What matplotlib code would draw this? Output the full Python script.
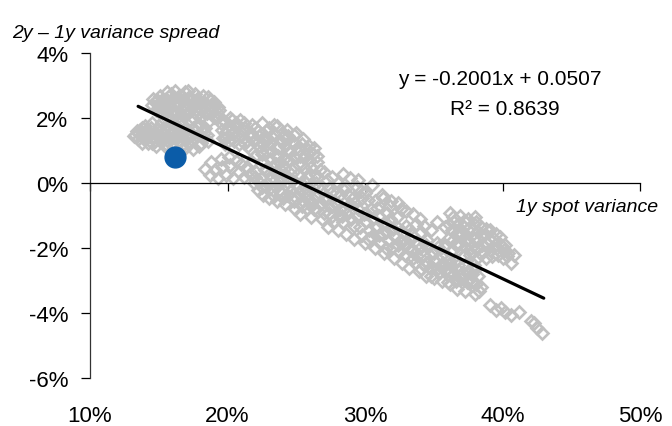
import matplotlib
matplotlib.use("Agg")
import matplotlib.pyplot as plt

plt.rcParams['font.family'] = ['Liberation Sans', 'DejaVu Sans']

# ---- data (percent units) ----
spot_variance = [
    # left lower cluster
    13.3, 13.5, 13.6, 13.9, 14.0, 14.2, 14.3, 14.5, 14.6, 14.8, 14.9, 15.1, 15.2, 15.3, 15.5, 15.6, 15.8, 15.9,
    16.0, 16.2, 16.4, 16.5, 16.7, 16.8, 17.0, 17.1, 17.3, 17.5, 17.6, 17.8, 18.0, 18.1, 18.3, 18.6, 13.8, 14.1,
    15.0, 15.7, 16.1, 16.9, 17.4, 18.4,
    13.4, 13.7, 14.0, 14.4, 14.7, 14.7, 15.0, 15.4, 15.6, 15.9, 16.3, 16.6, 16.6, 17.2, 17.2, 17.7, 17.9, 18.2,
    18.5, 16.0,
    13.2, 13.5, 13.8, 14.2, 14.5, 14.9, 15.3, 15.7, 16.2, 16.8, 17.5, 18.0, 17.0,
    # upper left cluster
    14.5, 14.8, 14.9, 15.1, 15.2, 15.4, 15.6, 15.7, 15.9, 16.0, 16.2, 16.3, 16.5, 16.7, 16.8, 17.0, 17.1, 17.3,
    17.5, 17.6, 17.7, 17.9, 18.1, 18.2, 18.4, 18.6, 18.7, 18.9, 19.1, 19.3, 19.4, 16.6, 15.3, 17.4, 18.0,
    14.7, 15.0, 15.2, 15.5, 15.8, 16.1, 16.4, 16.6, 16.9, 17.2, 17.5, 17.8, 18.3, 18.5, 18.8, 19.0, 19.2, 17.0,
    15.9, 16.9,
    14.6, 15.0, 15.5, 15.7, 16.2, 16.4, 16.8, 17.1, 17.4, 17.9, 18.3, 18.6, 19.0, 19.3, 16.0, 18.0,
    # middle upper band
    19.6, 19.7, 19.9, 20.1, 20.2, 20.4, 20.5, 20.7, 20.9, 21.0, 21.2, 19.8,
    21.3, 21.5, 21.6, 21.8, 21.9, 22.0, 22.2, 22.3, 22.5, 22.6, 22.7, 22.9, 23.0,
    23.1, 23.2, 23.4, 23.5, 23.6, 23.7, 23.9, 24.0, 24.1, 24.3, 24.4, 24.6, 24.7, 24.8, 25.0,
    25.1, 25.2, 25.4, 25.5, 25.7, 25.8, 25.9, 26.1, 26.2, 26.4, 26.5, 26.7,
    19.5, 19.8, 20.0, 20.3, 20.6, 20.8, 21.1, 21.4, 21.7, 22.1, 22.4, 22.8, 23.1, 23.3, 23.8, 23.9, 24.2, 24.5,
    24.9, 25.3, 25.6, 26.0, 26.3, 22.8, 24.4, 25.9,
    19.7, 20.0, 20.3, 20.6, 20.9, 21.2, 21.5, 21.8, 22.0, 22.3, 22.6, 22.9, 23.2, 23.4, 23.7, 24.0, 24.2, 24.5,
    24.8, 25.1, 25.4, 25.7, 26.0, 26.5, 23.5, 22.5,
    # lower left branch
    18.4, 18.7, 18.8, 19.1, 19.3, 19.5, 19.6, 19.9, 20.1, 20.2, 20.4, 20.6, 20.8, 21.0, 21.2, 21.4, 21.6, 21.8,
    # lower band
    21.9, 22.1, 22.2, 22.4, 22.6, 22.7, 22.9, 23.0, 23.2, 23.3, 23.5, 23.6, 23.8, 23.9, 24.1, 24.2, 24.4, 24.5,
    24.7, 24.9, 25.0, 25.2, 25.3, 25.5, 25.6, 25.8, 26.0, 26.1, 26.3, 26.4, 26.6, 26.8, 26.9, 27.1, 27.2, 27.4,
    27.5, 27.7, 27.8, 28.0, 28.1, 28.2,
    22.3, 22.8, 23.1, 23.4, 23.7, 24.0, 24.3, 24.6, 24.8, 25.1, 25.4, 25.7, 26.0, 26.2, 26.5, 26.7, 27.0, 27.3,
    27.6, 27.9, 28.2, 28.4,
    22.0, 22.5, 23.0, 23.5, 23.9, 24.3, 24.6, 25.0, 25.3, 25.5, 25.9, 26.3, 26.6, 27.0, 27.4, 27.6, 28.0, 28.3,
    # middle band
    27.0, 27.3, 27.6, 28.0, 28.3, 28.4, 28.5, 28.6, 28.8, 28.9, 29.0, 29.2, 29.3, 29.5, 29.6, 29.7, 29.9, 30.0,
    30.2, 30.3, 30.5, 30.6, 30.7, 30.9, 31.0, 31.2, 31.3, 31.4, 31.6, 31.7, 31.9, 32.0, 32.1, 32.3, 32.4, 32.6,
    32.7, 32.8,
    28.7, 29.1, 29.4, 29.8, 30.1, 30.4, 30.8, 31.1, 31.5, 31.8, 32.2, 32.5, 32.9, 29.4, 30.0,
    28.6, 28.9, 29.2, 29.5, 29.8, 30.1, 30.4, 30.7, 31.0, 31.3, 31.6, 32.0, 32.3, 32.6, 32.9, 30.2, 31.5,
    # stray upper diamonds
    31.3, 31.8, 32.4, 33.0, 33.5, 34.0, 34.3, 35.2,
    # lower right band
    33.0, 33.1, 33.2, 33.4, 33.5, 33.7, 33.8, 33.9, 34.1, 34.2, 34.4, 34.5, 34.6, 34.8, 34.9, 35.0, 35.2, 35.3,
    35.5, 35.6, 35.8, 35.9, 36.1, 36.2, 36.4, 36.5, 36.7, 36.8, 37.0, 37.2, 37.3, 37.5, 37.7, 37.9, 38.0, 38.2,
    38.4,
    33.3, 33.6, 34.0, 34.3, 34.7, 35.1, 35.4, 35.7, 36.0, 36.3, 36.6, 37.1, 37.4, 37.8, 38.1,
    33.2, 33.5, 33.8, 34.1, 34.4, 34.7, 35.0, 35.3, 35.6, 35.9, 36.2, 36.6, 36.9, 37.3, 37.6, 38.0, 38.3, 34.8,
    36.0,
    # upper right group
    35.8, 36.0, 36.2, 36.3, 36.5, 36.6, 36.8, 36.9, 37.1, 37.2, 37.4, 37.5, 37.7, 37.8, 38.0, 38.1, 38.3, 38.4,
    38.6, 38.7, 38.9, 39.1, 39.2, 39.4, 39.6, 39.8, 40.0, 40.2, 40.4, 40.6, 40.8,
    36.1, 36.4, 36.7, 37.0, 37.3, 37.6, 37.9, 38.2, 38.5, 38.8, 39.0, 39.3, 39.7, 40.1, 36.4, 37.6,
    36.3, 36.6, 36.9, 37.2, 37.5, 37.9, 38.2, 38.5, 38.8, 39.1, 39.5, 39.9, 40.3, 38.0,
    # tail
    39.1, 39.5, 39.9, 40.2, 40.6, 41.2, 42.1, 42.5, 42.9, 42.3,
]

variance_spread = [
    # left lower cluster
    1.50, 1.35, 1.65, 1.45, 1.75, 1.25, 1.55, 1.85, 1.40, 1.15, 1.65, 1.30, 1.90, 1.55, 1.20, 1.75, 1.40, 1.95,
    1.15, 1.60, 1.30, 1.85, 1.50, 1.05, 1.70, 1.40, 1.95, 1.05, 1.60, 1.45, 1.80, 1.25, 1.55, 1.30, 1.25, 1.60,
    1.45, 1.60, 1.75, 1.65, 1.50, 1.70,
    1.60, 1.45, 1.35, 1.70, 1.30, 1.55, 1.75, 1.35, 1.10, 1.55, 1.45, 1.15, 1.65, 1.20, 1.55, 1.75, 1.15, 1.40,
    1.50, 1.85,
    1.45, 1.55, 1.70, 1.45, 1.25, 1.50, 1.70, 1.30, 1.45, 1.35, 1.70, 1.50, 1.15,
    # upper left cluster
    2.40, 2.25, 2.55, 2.70, 2.15, 2.45, 2.80, 2.10, 2.35, 2.60, 2.85, 2.15, 2.45, 2.70, 2.05, 2.30, 2.85, 2.55,
    2.00, 2.75, 2.25, 2.50, 2.05, 2.70, 2.35, 1.90, 2.55, 2.20, 2.40, 2.05, 2.25, 2.30, 2.30, 2.45, 2.30,
    2.50, 2.35, 2.55, 2.60, 2.50, 2.25, 2.65, 2.55, 2.40, 2.65, 2.35, 2.60, 2.50, 2.15, 2.40, 2.05, 2.20, 2.10,
    2.75, 2.80,
    2.60, 2.20, 2.25, 2.45, 2.40, 2.05, 2.55, 2.20, 2.60, 2.15, 2.20, 2.65, 2.50, 2.35, 2.15, 2.50,
    # middle upper band
    1.65, 1.95, 1.40, 1.80, 2.00, 1.55, 1.30, 1.75, 1.95, 1.45, 1.25, 1.20,
    1.70, 1.50, 1.05, 1.80, 1.30, 0.85, 1.60, 1.15, 1.85, 0.65, 1.40, 0.95, 1.70,
    1.25, 0.50, 1.55, 0.85, 1.75, 1.10, 0.40, 1.45, 0.75, 1.65, 1.05, 0.45, 1.30, 0.80, 1.55,
    0.30, 1.05, 0.60, 1.35, 0.85, 0.20, 1.15, 0.50, 0.90, 0.25, 0.65, 0.40,
    1.85, 1.55, 1.30, 1.70, 1.50, 1.20, 1.65, 1.30, 1.55, 1.35, 1.00, 1.60, 0.75, 1.40, 0.65, 1.30, 1.15, 0.70,
    1.20, 0.85, 0.45, 0.70, 1.10, 0.45, 1.45, 0.30,
    1.40, 1.60, 1.95, 1.85, 1.60, 1.85, 1.15, 1.45, 1.70, 1.45, 1.20, 1.35, 1.00, 1.80, 0.85, 0.55, 1.50, 0.95,
    1.50, 0.60, 1.20, 1.10, 0.95, 0.85, 0.60, 0.90,
    # lower left branch
    0.45, 0.25, 0.65, 0.40, 0.15, 0.75, 0.50, 0.25, 0.80, 0.55, 0.15, 0.70, 0.35, 0.60, 0.20, 0.50, 0.30, 0.65,
    # lower band
    0.00, 0.35, -0.20, 0.15, -0.35, 0.40, 0.00, -0.45, 0.20, -0.20, 0.35, -0.55, 0.05, -0.30, 0.25, -0.65, -0.10, 0.15,
    -0.45, -0.80, 0.00, -0.30, -0.95, -0.55, 0.05, -0.75, -0.25, -1.05, -0.50, 0.00, -0.85, -0.20, -1.10, -0.55, 0.10, -0.90,
    -0.30, -1.20, -0.60, 0.00, -1.00, -0.35,
    0.05, -0.10, 0.10, -0.40, -0.05, -0.45, 0.05, -0.25, -0.55, -0.10, -0.70, -0.35, -0.65, -0.10, -0.35, -0.65, -0.90, -0.45,
    -0.70, -0.30, -0.80, -1.20,
    0.20, -0.10, 0.30, -0.10, 0.15, -0.35, 0.30, -0.45, 0.20, -0.20, -0.50, -0.80, -0.10, -0.45, -0.15, -1.00, -0.65, -1.00,
    # middle band
    0.35, -1.35, 0.20, -1.45, -0.15, 0.30, -0.80, -1.55, -0.40, 0.15, -1.10, -1.70, -0.60, 0.10, -1.35, -0.25, -0.95, -1.85,
    -0.50, -1.45, -0.05, -1.10, -2.00, -0.75, -1.60, -0.35, -1.25, -2.15, -0.90, -1.75, -0.55, -1.40, -2.30, -1.05, -1.90, -0.80,
    -2.45, -1.50,
    -0.95, -0.45, -1.00, -1.60, -1.20, -0.80, -1.35, -1.85, -1.50, -1.10, -1.65, -2.10, -1.85, -0.10, -0.30,
    -0.15, -0.65, -1.30, -0.80, -0.45, -0.90, -1.65, -0.55, -1.00, -1.55, -1.25, -1.95, -1.35, -1.75, -2.20, -1.70, -2.00,
    # stray upper diamonds
    -0.45, -0.70, -0.60, -0.85, -0.95, -1.10, -1.30, -1.20,
    # lower right band
    -1.30, -2.00, -2.60, -1.60, -2.30, -1.25, -1.90, -2.70, -1.50, -2.20, -2.85, -1.75, -2.45, -1.45, -2.10, -2.90, -1.85, -2.60,
    -2.25, -3.00, -1.90, -2.65, -2.35, -3.10, -2.05, -2.80, -3.25, -2.50, -2.95, -2.25, -3.30, -2.70, -3.05, -2.50, -3.40, -2.85,
    -3.20,
    -1.75, -2.45, -2.00, -2.50, -2.20, -2.40, -2.75, -2.45, -2.80, -2.55, -3.00, -2.75, -3.05, -2.80, -3.10,
    -1.45, -2.05, -2.25, -2.65, -1.90, -2.60, -2.15, -1.95, -2.60, -2.20, -2.70, -2.35, -2.85, -2.50, -2.90, -2.65, -3.30, -2.85,
    -3.05,
    # upper right group
    -1.35, -1.70, -0.90, -2.05, -1.20, -1.55, -1.90, -1.00, -2.25, -1.35, -1.70, -1.10, -2.00, -1.45, -2.35, -1.20, -1.75, -1.35,
    -2.10, -1.55, -1.85, -1.45, -2.25, -1.70, -2.00, -1.65, -2.30, -1.90, -2.15, -2.45, -2.20,
    -1.25, -1.75, -1.30, -1.60, -1.95, -1.35, -1.70, -2.00, -1.60, -2.30, -1.70, -1.95, -2.20, -2.05, -1.05, -2.20,
    -1.45, -1.90, -1.50, -1.15, -1.85, -1.25, -1.50, -1.90, -1.40, -2.05, -1.55, -1.90, -2.25, -1.05,
    # tail
    -3.75, -3.90, -3.85, -3.95, -4.05, -3.95, -4.25, -4.45, -4.60, -4.30,
]

current_spot = [16.2]
current_spread = [0.80]

fit_slope = -0.2001
fit_intercept = 0.0507
fit_r2 = 0.8639
fit_x = [13.5, 43.0]

x_ticks = [10, 20, 30, 40, 50]
x_labels = ['10%', '20%', '30%', '40%', '50%']
y_ticks = [-6, -4, -2, 0, 2, 4]
y_labels = ['-6%', '-4%', '-2%', '0%', '2%', '4%']

# ---- figure ----
fig = plt.figure(figsize=(6.72, 4.27), dpi=100)
ax = fig.add_axes([90 / 672, 47.7 / 427, 550 / 672, 325 / 427])
ax.set_xlim(10, 50)
ax.set_ylim(-6, 4)

ax.plot(spot_variance, variance_spread, linestyle='none', marker='D', markersize=6.0,
        markerfacecolor='none', markeredgecolor='#C0C0C0', markeredgewidth=1.9, zorder=2)

fit_y = [(fit_slope * x / 100 + fit_intercept) * 100 for x in fit_x]
ax.plot(fit_x, fit_y, color='black', linewidth=2.3, solid_capstyle='round', zorder=3)

ax.plot(current_spot, current_spread, linestyle='none', marker='o', markersize=15,
        color='#0B5CA8', zorder=4)

for s in ['top', 'right']:
    ax.spines[s].set_visible(False)
ax.spines['bottom'].set_position(('data', 0))
ax.spines['bottom'].set_linewidth(0.9)
ax.spines['left'].set_linewidth(0.9)
ax.spines['left'].set_color('#333333')

ax.set_xticks(x_ticks)
ax.tick_params(axis='x', direction='out', length=6, width=0.9, labelbottom=False)
ax.set_yticks(y_ticks)
ax.set_yticklabels(y_labels)
ax.tick_params(axis='y', direction='out', length=6.5, width=0.9, pad=9, labelsize=16)

sec = ax.secondary_xaxis('bottom')
sec.set_xticks(x_ticks)
sec.set_xticklabels(x_labels)
sec.tick_params(length=0, pad=19, labelsize=16)
sec.spines['bottom'].set_visible(False)

fig.text(12 / 672, 1 - 38 / 427, '2y \u2013 1y variance spread', style='italic', fontsize=14,
         ha='left', va='baseline')
fig.text(658 / 672, 1 - 212 / 427, '1y spot variance', style='italic', fontsize=14,
         ha='right', va='baseline')
fig.text(500 / 672, 1 - 85 / 427, f'y = {fit_slope:.4f}x + {fit_intercept:.4f}', fontsize=15,
         ha='center', va='baseline')
fig.text(505 / 672, 1 - 115 / 427, f'R\u00b2 = {fit_r2:.4f}', fontsize=15,
         ha='center', va='baseline')

fig.savefig('out.png', dpi=100)
